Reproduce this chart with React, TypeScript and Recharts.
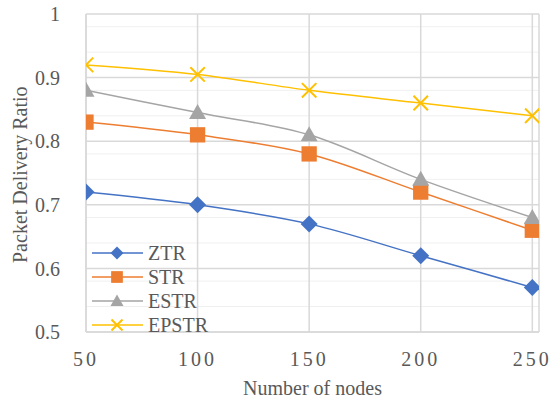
import React from "react"
import {
  LineChart,
  Line,
  XAxis,
  YAxis,
  CartesianGrid,
  Legend,
  ReferenceLine,
} from "recharts"

const NODES = [50, 100, 150, 200, 250]
const ZTR = [0.72, 0.7, 0.67, 0.62, 0.57]
const STR = [0.83, 0.81, 0.78, 0.72, 0.66]
const ESTR = [0.88, 0.845, 0.81, 0.74, 0.68]
const EPSTR = [0.92, 0.905, 0.88, 0.86, 0.84]

const Y_TICKS = [0.5, 0.6, 0.7, 0.8, 0.9, 1]
const Y_MINOR = [
  0.52, 0.54, 0.56, 0.58, 0.62, 0.64, 0.66, 0.68, 0.72, 0.74, 0.76, 0.78,
  0.82, 0.84, 0.86, 0.88, 0.92, 0.94, 0.96, 0.98,
]

const FONT = "Liberation Serif, DejaVu Serif, serif"
const TEXT = "#595959"
const GRID = "#d9d9d9"

type Shape = "diamond" | "square" | "triangle" | "cross"

const SERIES: { key: string; name: string; color: string; shape: Shape }[] = [
  { key: "ztr", name: "ZTR", color: "#4472C4", shape: "diamond" },
  { key: "str", name: "STR", color: "#ED7D31", shape: "square" },
  { key: "estr", name: "ESTR", color: "#A5A5A5", shape: "triangle" },
  { key: "epstr", name: "EPSTR", color: "#FFC000", shape: "cross" },
]

const data = NODES.map((n, i) => ({
  nodes: n,
  ztr: ZTR[i],
  str: STR[i],
  estr: ESTR[i],
  epstr: EPSTR[i],
}))

function Marker({ cx, cy, shape, color, s }: { cx: number; cy: number; shape: Shape; color: string; s: number }) {
  if (shape === "diamond") {
    return <polygon points={`${cx},${cy - s} ${cx + s},${cy} ${cx},${cy + s} ${cx - s},${cy}`} fill={color} />
  }
  if (shape === "square") {
    const h = s * 0.9
    return <rect x={cx - h} y={cy - h} width={h * 2} height={h * 2} fill={color} />
  }
  if (shape === "triangle") {
    return <polygon points={`${cx},${cy - s} ${cx + s},${cy + s * 0.75} ${cx - s},${cy + s * 0.75}`} fill={color} />
  }
  const h = s * 0.85
  return (
    <g stroke={color} strokeWidth={2}>
      <line x1={cx - h} y1={cy - h} x2={cx + h} y2={cy + h} />
      <line x1={cx - h} y1={cy + h} x2={cx + h} y2={cy - h} />
    </g>
  )
}

function LegendBox() {
  return (
    <div style={{ fontFamily: FONT, fontSize: 20, color: TEXT }}>
      {SERIES.map((s) => (
        <div key={s.key} style={{ display: "flex", alignItems: "center", height: 24 }}>
          <svg width={56} height={24}>
            <line x1={0} y1={12} x2={51} y2={12} stroke={s.color} strokeWidth={1.5} />
            <Marker cx={25} cy={12} shape={s.shape} color={s.color} s={6.5} />
          </svg>
          <span style={{ lineHeight: "24px" }}>{s.name}</span>
        </div>
      ))}
    </div>
  )
}

export default function App() {
  return (
    <div style={{ position: "absolute", left: 0, top: 0, background: "#fff", fontFamily: FONT }}>
      <LineChart width={552} height={401} data={data} margin={{ top: 14, right: 13, bottom: 0, left: 0 }}>
        <CartesianGrid horizontalValues={Y_MINOR} vertical={false} stroke="#f0f0f0" strokeWidth={1} />
        <CartesianGrid horizontalValues={Y_TICKS} verticalValues={NODES} stroke={GRID} strokeWidth={1.5} />
        <ReferenceLine x={253} stroke={GRID} strokeWidth={1.5} />
        <XAxis
          dataKey="nodes"
          type="number"
          domain={[50, 253]}
          ticks={NODES}
          allowDataOverflow
          height={69}
          axisLine={{ stroke: GRID, strokeWidth: 1.5 }}
          tickLine={false}
          tickMargin={14}
          tick={{ fill: TEXT, fontSize: 20, fontFamily: FONT, letterSpacing: 3 }}
          label={{ value: "Number of nodes", position: "insideBottom", offset: 6, fill: TEXT, fontSize: 20, fontFamily: FONT }}
        />
        <YAxis
          domain={[0.5, 1]}
          ticks={Y_TICKS}
          width={86}
          axisLine={{ stroke: GRID, strokeWidth: 1.5 }}
          tickLine={false}
          tickMargin={20}
          tick={{ fill: TEXT, fontSize: 20, fontFamily: FONT }}
          label={{ value: "Packet Delivery Ratio", angle: -90, position: "insideLeft", offset: 20, dy: 90, fill: TEXT, fontSize: 20, fontFamily: FONT }}
        />
        <Legend
          layout="vertical"
          align="center"
          verticalAlign="middle"
          content={() => <LegendBox />}
          wrapperStyle={{ left: 92, top: 241, width: 120 }}
        />
        {SERIES.map((s) => (
          <Line
            key={s.key}
            dataKey={s.key}
            name={s.name}
            type="monotone"
            stroke={s.color}
            strokeWidth={1.5}
            isAnimationActive={false}
            dot={(p: any) => (
              <Marker key={`${s.key}-${p.index}`} cx={p.cx} cy={p.cy} shape={s.shape} color={s.color} s={8.5} />
            )}
            activeDot={false}
          />
        ))}
      </LineChart>
    </div>
  )
}
